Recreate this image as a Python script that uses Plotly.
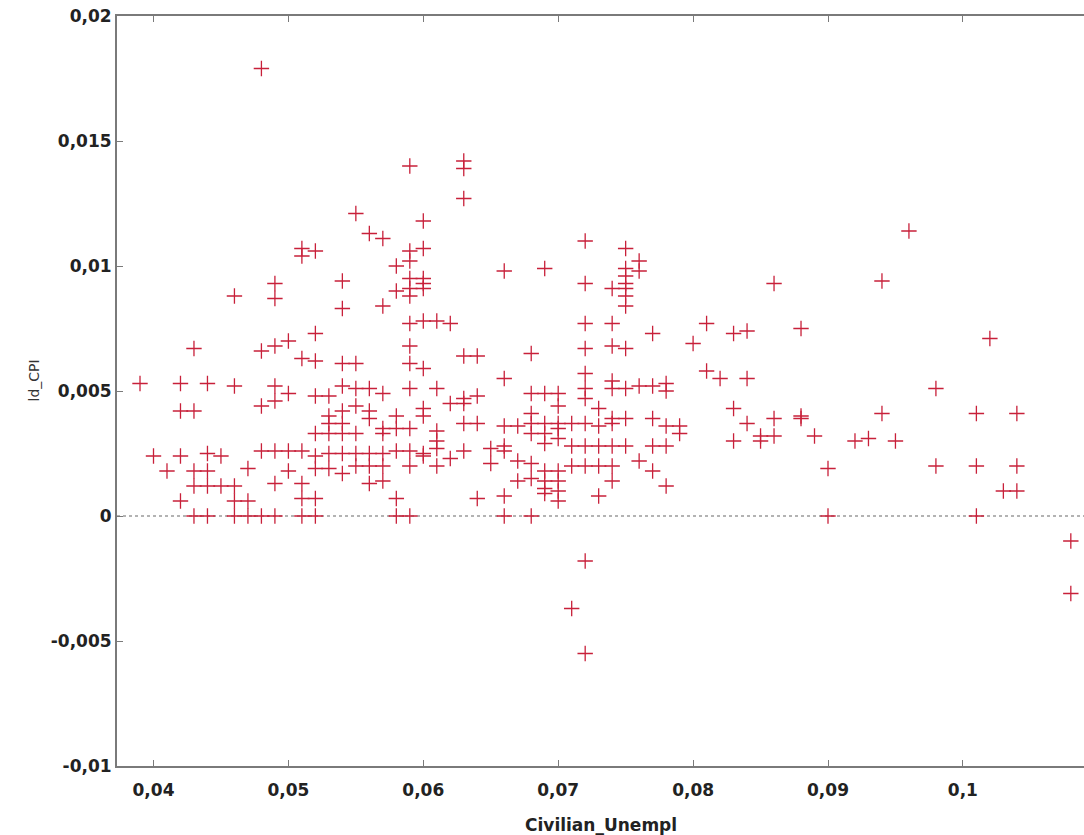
import plotly.graph_objects as go

# Civilian unemployment rate (x) and log-diff CPI (y)
unemp = [
    0.039,
    0.040,
    0.041,
    0.042, 0.042, 0.042, 0.042,
    0.043, 0.043, 0.043, 0.043, 0.043,
    0.044, 0.044, 0.044, 0.044, 0.044,
    0.045, 0.045,
    0.046, 0.046, 0.046, 0.046, 0.046,
    0.047, 0.047, 0.047,
    0.048, 0.048, 0.048, 0.048, 0.048,
    0.049, 0.049, 0.049, 0.049, 0.049, 0.049, 0.049, 0.049,
    0.050, 0.050, 0.050, 0.050,
    0.051, 0.051, 0.051, 0.051, 0.051, 0.051, 0.051,
    0.052, 0.052, 0.052, 0.052, 0.052, 0.052, 0.052, 0.052, 0.052,
    0.053, 0.053, 0.053, 0.053, 0.053, 0.053,
    0.054, 0.054, 0.054, 0.054, 0.054, 0.054, 0.054, 0.054, 0.054,
    0.055, 0.055, 0.055, 0.055, 0.055, 0.055, 0.055,
    0.056, 0.056, 0.056, 0.056, 0.056, 0.056, 0.056,
    0.057, 0.057, 0.057, 0.057, 0.057, 0.057, 0.057, 0.057,
    0.058, 0.058, 0.058, 0.058, 0.058, 0.058, 0.058,
    0.059, 0.059, 0.059, 0.059, 0.059, 0.059, 0.059, 0.059, 0.059, 0.059, 0.059, 0.059, 0.059, 0.059,
    0.060, 0.060, 0.060, 0.060, 0.060, 0.060, 0.060, 0.060, 0.060, 0.060, 0.060,
    0.061, 0.061, 0.061, 0.061, 0.061, 0.061,
    0.062, 0.062, 0.062,
    0.063, 0.063, 0.063, 0.063, 0.063, 0.063, 0.063, 0.063,
    0.064, 0.064, 0.064, 0.064,
    0.065, 0.065,
    0.066, 0.066, 0.066, 0.066, 0.066, 0.066, 0.066,
    0.067, 0.067, 0.067,
    0.068, 0.068, 0.068, 0.068, 0.068, 0.068, 0.068, 0.068,
    0.069, 0.069, 0.069, 0.069, 0.069, 0.069, 0.069, 0.069, 0.069,
    0.070, 0.070, 0.070, 0.070, 0.070, 0.070, 0.070, 0.070, 0.070,
    0.071, 0.071, 0.071, 0.071,
    0.072, 0.072, 0.072, 0.072, 0.072, 0.072, 0.072, 0.072, 0.072, 0.072, 0.072, 0.072,
    0.073, 0.073, 0.073, 0.073, 0.073,
    0.074, 0.074, 0.074, 0.074, 0.074, 0.074, 0.074, 0.074, 0.074, 0.074,
    0.075, 0.075, 0.075, 0.075, 0.075, 0.075, 0.075, 0.075, 0.075, 0.075, 0.075,
    0.076, 0.076, 0.076, 0.076,
    0.077, 0.077, 0.077, 0.077, 0.077,
    0.078, 0.078, 0.078, 0.078, 0.078,
    0.079, 0.079,
    0.080,
    0.081, 0.081,
    0.082,
    0.083, 0.083, 0.083,
    0.084, 0.084, 0.084,
    0.085, 0.085,
    0.086, 0.086, 0.086,
    0.088, 0.088, 0.088,
    0.089,
    0.090, 0.090,
    0.092,
    0.093,
    0.094, 0.094,
    0.095,
    0.096,
    0.098, 0.098,
    0.101, 0.101, 0.101,
    0.102,
    0.103,
    0.104, 0.104, 0.104,
    0.108, 0.108,
]

ld_cpi = [
    0.0053,
    0.0024,
    0.0018,
    0.0053, 0.0042, 0.0024, 0.0006,
    0.0067, 0.0042, 0.0018, 0.0012, 0.0,
    0.0053, 0.0025, 0.0018, 0.0012, 0.0,
    0.0024, 0.0012,
    0.0088, 0.0052, 0.0012, 0.0006, 0.0,
    0.0019, 0.0006, 0.0,
    0.0179, 0.0066, 0.0044, 0.0026, 0.0,
    0.0093, 0.0087, 0.0068, 0.0052, 0.0046, 0.0026, 0.0013, 0.0,
    0.0070, 0.0049, 0.0026, 0.0018,
    0.0107, 0.0104, 0.0063, 0.0026, 0.0013, 0.0007, 0.0,
    0.0106, 0.0073, 0.0062, 0.0048, 0.0033, 0.0024, 0.0019, 0.0007, 0.0,
    0.0048, 0.0040, 0.0037, 0.0033, 0.0025, 0.0019,
    0.0094, 0.0083, 0.0061, 0.0052, 0.0042, 0.0037, 0.0033, 0.0025, 0.0017,
    0.0121, 0.0061, 0.0051, 0.0044, 0.0033, 0.0025, 0.0020,
    0.0113, 0.0051, 0.0042, 0.0039, 0.0025, 0.0020, 0.0013,
    0.0111, 0.0084, 0.0049, 0.0035, 0.0033, 0.0025, 0.0020, 0.0014,
    0.0100, 0.0090, 0.0040, 0.0035, 0.0026, 0.0007, 0.0,
    0.0140, 0.0106, 0.0102, 0.0095, 0.0091, 0.0088, 0.0077, 0.0068, 0.0061, 0.0051, 0.0035, 0.0026, 0.0020, 0.0,
    0.0118, 0.0107, 0.0095, 0.0093, 0.0091, 0.0078, 0.0059, 0.0043, 0.0040, 0.0025, 0.0024,
    0.0078, 0.0051, 0.0034, 0.0030, 0.0027, 0.0020,
    0.0077, 0.0045, 0.0023,
    0.0142, 0.0139, 0.0127, 0.0064, 0.0047, 0.0045, 0.0037, 0.0026,
    0.0064, 0.0048, 0.0037, 0.0007,
    0.0027, 0.0021,
    0.0098, 0.0055, 0.0036, 0.0028, 0.0026, 0.0008, 0.0,
    0.0036, 0.0022, 0.0014,
    0.0065, 0.0049, 0.0041, 0.0037, 0.0033, 0.0021, 0.0015, 0.0,
    0.0099, 0.0049, 0.0037, 0.0033, 0.0029, 0.0018, 0.0014, 0.0011, 0.0009,
    0.0049, 0.0044, 0.0037, 0.0035, 0.0031, 0.0018, 0.0014, 0.0010, 0.0006,
    0.0037, 0.0028, 0.0020, -0.0037,
    0.0110, 0.0093, 0.0077, 0.0067, 0.0057, 0.0051, 0.0047, 0.0037, 0.0028, 0.0020, -0.0018, -0.0055,
    0.0043, 0.0036, 0.0028, 0.0020, 0.0008,
    0.0091, 0.0077, 0.0068, 0.0054, 0.0051, 0.0039, 0.0037, 0.0028, 0.0020, 0.0014,
    0.0107, 0.0099, 0.0096, 0.0093, 0.0091, 0.0088, 0.0084, 0.0067, 0.0051, 0.0039, 0.0028,
    0.0102, 0.0098, 0.0052, 0.0022,
    0.0073, 0.0052, 0.0039, 0.0028, 0.0018,
    0.0053, 0.0050, 0.0036, 0.0028, 0.0012,
    0.0036, 0.0033,
    0.0069,
    0.0077, 0.0058,
    0.0055,
    0.0073, 0.0043, 0.0030,
    0.0074, 0.0055, 0.0037,
    0.0032, 0.0030,
    0.0093, 0.0039, 0.0032,
    0.0075, 0.0040, 0.0039,
    0.0032,
    0.0019, 0.0,
    0.0030,
    0.0031,
    0.0094, 0.0041,
    0.0030,
    0.0114,
    0.0051, 0.0020,
    0.0041, 0.0020, 0.0,
    0.0071,
    0.0010,
    0.0041, 0.0020, 0.0010,
    -0.0010, -0.0031,
]

x_tickvals = [0.04, 0.05, 0.06, 0.07, 0.08, 0.09, 0.10]
x_ticktext = ["0,04", "0,05", "0,06", "0,07", "0,08", "0,09", "0,1"]
y_tickvals = [-0.01, -0.005, 0.0, 0.005, 0.01, 0.015, 0.02]
y_ticktext = ["-0,01", "-0,005", "0", "0,005", "0,01", "0,015", "0,02"]

x_title = "Civilian_Unempl"
y_title = "ld_CPI"

font_family = "DejaVu Sans"
axis_color = "#7a7a7a"
marker_color = "#c8203a"

fig = go.Figure()
fig.add_trace(go.Scatter(
    x=unemp, y=ld_cpi, mode="markers",
    marker=dict(symbol="cross-thin", size=11, color=marker_color,
                line=dict(width=1.3, color=marker_color)),
    showlegend=False, hoverinfo="x+y",
))

fig.add_shape(type="line", xref="paper", yref="y", x0=0, x1=1, y0=0, y1=0,
              line=dict(color="#9a9a9a", width=1.5, dash="dot"), layer="below")

fig.update_layout(
    width=1084, height=835,
    margin=dict(l=117, r=0, t=16, b=69),
    plot_bgcolor="white", paper_bgcolor="white",
    font=dict(family=font_family, color="#222222"),
    xaxis=dict(
        range=[0.037294, 0.108977], tickvals=x_tickvals, ticktext=x_ticktext,
        showgrid=False, zeroline=False, showline=True, linecolor=axis_color, linewidth=2,
        mirror="ticks", ticks="inside", ticklen=6, tickcolor=axis_color, tickwidth=1,
        tickfont=dict(size=17, weight="bold", color="#222222"),
        ticklabelstandoff=8,
    ),
    yaxis=dict(
        range=[-0.01, 0.02], tickvals=y_tickvals, ticktext=y_ticktext,
        showgrid=False, zeroline=False, showline=True, linecolor=axis_color, linewidth=2,
        mirror=False, ticks="inside", ticklen=6, tickcolor=axis_color, tickwidth=1,
        tickfont=dict(size=17, weight="bold", color="#222222"),
    ),
    annotations=[
        dict(text=x_title, xref="paper", yref="paper", x=0.5, y=0, yshift=-59,
             showarrow=False, font=dict(size=17, weight="bold", color="#222222"),
             xanchor="center", yanchor="middle"),
        dict(text=y_title, xref="paper", yref="paper", x=0, xshift=-84, y=0.514,
             showarrow=False, textangle=-90, font=dict(size=14, color="#333333"),
             xanchor="center", yanchor="middle"),
    ],
)

fig.write_html("out.html")
